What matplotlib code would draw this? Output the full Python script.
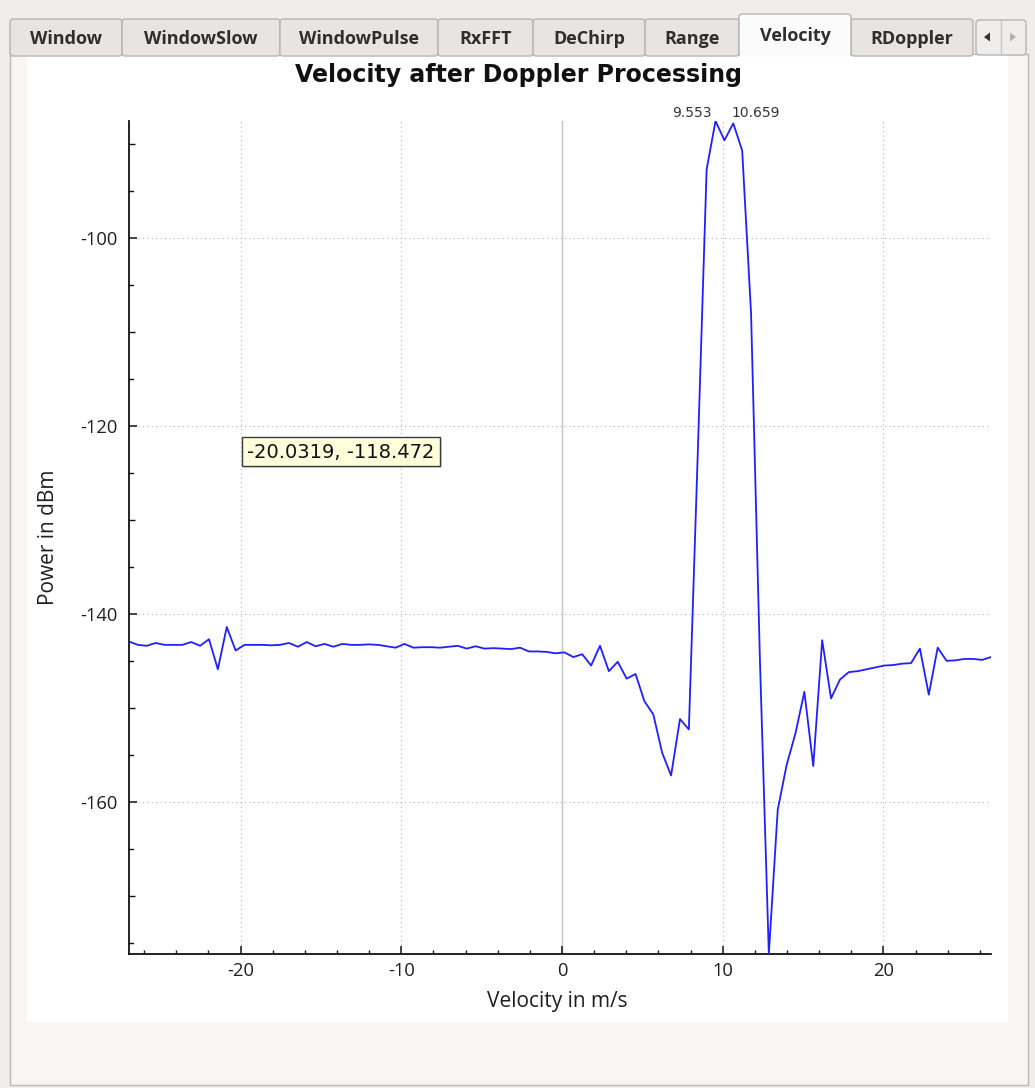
import numpy as np
import matplotlib
matplotlib.use("Agg")
import matplotlib.pyplot as plt
from matplotlib.patches import Rectangle, FancyBboxPatch, Polygon
from matplotlib.ticker import MultipleLocator

plt.rcParams['axes.unicode_minus'] = False

# Doppler bins in m/s (uniform FFT bin spacing of 0.553 m/s)
velocity = np.round(-26.945 + 0.553 * np.arange(98), 3)

# Power per Doppler bin in dBm
power_dbm = [
    -142.95, -143.3, -143.4, -143.1, -143.3, -143.3, -143.3, -143.0, -143.4, -142.7,
    -145.9, -141.4, -143.9, -143.3, -143.3, -143.3, -143.35, -143.3, -143.1, -143.5,
    -143.0, -143.45, -143.2, -143.5, -143.2, -143.3, -143.3, -143.25, -143.3, -143.45,
    -143.6, -143.2, -143.6, -143.55, -143.55, -143.6, -143.5, -143.4, -143.7, -143.45,
    -143.7, -143.65, -143.7, -143.75, -143.6, -144.0, -144.0, -144.05, -144.2, -144.1,
    -144.6, -144.3, -145.5, -143.4, -146.1, -145.1, -146.9, -146.4, -149.3, -150.7,
    -154.8, -157.2, -151.2, -152.3, -123.0, -92.7, -87.55, -89.6, -87.8, -90.7,
    -108.0, -145.0, -176.2, -160.85, -156.1, -152.7, -148.3, -156.2, -142.8, -149.0,
    -147.0, -146.2, -146.1, -145.9, -145.7, -145.5, -145.45, -145.3, -145.25, -143.7,
    -148.6, -143.6, -145.0, -144.95, -144.8, -144.8, -144.9, -144.6,
]

peak_velocities = [9.553, 10.659]
tab_names = ["Window", "WindowSlow", "WindowPulse", "RxFFT", "DeChirp",
             "Range", "Velocity", "RDoppler"]
active_tab = "Velocity"
title_text = "Velocity after Doppler Processing"
x_label = "Velocity in m/s"
y_label = "Power in dBm"
cursor_text = "-20.0319, -118.472"

W, H = 1035, 1088
fig = plt.figure(figsize=(W / 100, H / 100), dpi=100, facecolor="#f0eeec")

# ---- window chrome: tab bar and pane -------------------------------------
bg = fig.add_axes([0, 0, 1, 1], zorder=0)
bg.set_xlim(0, W)
bg.set_ylim(H, 0)
bg.axis("off")

bg.add_patch(Rectangle((10, 54), 1018, 1031, facecolor="#f7f6f4",
                       edgecolor="#bcb9b4", lw=1.0))
bg.add_patch(Rectangle((27, 55), 981, 967, facecolor="white", edgecolor="none"))

tab_edges = [10, 122, 280, 438, 533, 645, 739, 851, 973]
for i, name in enumerate(tab_names):
    x0, x1 = tab_edges[i], tab_edges[i + 1]
    active = name == active_tab
    top = 14 if active else 19
    face = "#fbfbfb" if active else "#e7e5e2"
    bg.add_patch(FancyBboxPatch((x0, top), x1 - x0, 56 - top,
                                boxstyle="round,pad=0,rounding_size=3",
                                facecolor=face, edgecolor="#b7b4af", lw=1.0,
                                zorder=2 if active else 1))
    if active:
        bg.add_patch(Rectangle((x0 + 1, 53), x1 - x0 - 2, 4, facecolor=face,
                               edgecolor="none", zorder=3))
    bg.text((x0 + x1) / 2, 36 if active else 38.5, name, ha="center", va="center",
            fontsize=13, fontweight="bold", family="Open Sans", color="#2e2e2e",
            zorder=4)

# scroll buttons of the tab bar
bg.add_patch(FancyBboxPatch((976, 20), 50, 35, boxstyle="round,pad=0,rounding_size=3",
                            facecolor="#eeedeb", edgecolor="#b7b4af", lw=1.0, zorder=1))
bg.plot([1001, 1001], [21, 54], color="#c8c5c0", lw=1.0, zorder=2)
bg.add_patch(Polygon([(984, 37), (990, 32.5), (990, 41.5)], closed=True,
                     facecolor="#333333", edgecolor="none", zorder=3))
bg.add_patch(Polygon([(1010, 32.5), (1016, 37), (1010, 41.5)], closed=True,
                     facecolor="#b0b0b0", edgecolor="none", zorder=3))

fig.text(518.5 / W, 1 - 75 / H, title_text, ha="center", va="center",
         fontsize=17, fontweight="bold", family="DejaVu Sans", color="#111111")

# ---- plot ----------------------------------------------------------------
ax_l, ax_r, ax_t, ax_b = 129, 991, 121, 954
ax = fig.add_axes([ax_l / W, 1 - ax_b / H, (ax_r - ax_l) / W, (ax_b - ax_t) / H],
                  zorder=1)
ax.set_facecolor("white")

ax.plot(velocity, power_dbm, color="#1f1fff", lw=1.3, zorder=3)
ax.set_xlim(velocity[0], velocity[-1])
ax.set_ylim(min(power_dbm), max(power_dbm))

ax.xaxis.set_major_locator(MultipleLocator(10))
ax.xaxis.set_minor_locator(MultipleLocator(2))
ax.yaxis.set_major_locator(MultipleLocator(20))
ax.yaxis.set_minor_locator(MultipleLocator(10))

for side in ("top", "right"):
    ax.spines[side].set_visible(False)
for side in ("left", "bottom"):
    ax.spines[side].set_linewidth(1.3)
    ax.spines[side].set_color("#111111")

ax.tick_params(which="major", direction="in", length=6, width=1.1, color="#111111",
               labelsize=13.2, labelcolor="#1e1e1e")
ax.tick_params(axis="x", which="major", pad=5.5)
ax.tick_params(axis="y", which="major", pad=8.5)
ax.tick_params(axis="x", which="minor", direction="in", length=3, width=1.0, color="#111111")
ax.tick_params(axis="y", which="minor", direction="in", length=4.3, width=1.0, color="#111111")
for lab in ax.get_xticklabels() + ax.get_yticklabels():
    lab.set_family("Open Sans")

# smallest ticks every 5 dB
ytr = ax.get_yaxis_transform()
lo, hi = ax.get_ylim()
for yv in np.arange(np.ceil(lo / 5) * 5, hi, 5):
    if yv % 10 != 0:
        ax.plot([0, 4 / (ax_r - ax_l)], [yv, yv], transform=ytr, color="#111111",
                lw=1.0, clip_on=False, zorder=4)

# grid: dotted at major ticks, solid zero line
for xv in ax.get_xticks():
    if velocity[0] <= xv <= velocity[-1]:
        if xv == 0:
            ax.axvline(xv, color="#c4c4c4", lw=1.0, zorder=1)
        else:
            ax.axvline(xv, color="#b4b4b4", lw=0.8, ls=(0, (1, 3)), zorder=1)
for yv in ax.get_yticks():
    if lo <= yv <= hi:
        ax.axhline(yv, color="#b4b4b4", lw=0.8, ls=(0, (1, 3)), zorder=1)

ax.set_xlabel(x_label, family="Open Sans", fontsize=15, color="#1e1e1e")
ax.set_ylabel(y_label, family="Open Sans", fontsize=15, color="#1e1e1e")
ax.xaxis.label.set_va("center")
ax.yaxis.label.set_va("center")
ax.xaxis.set_label_coords((557 - ax_l) / (ax_r - ax_l), (ax_b - 1002) / (ax_b - ax_t))
ax.yaxis.set_label_coords((49 - ax_l) / (ax_r - ax_l), 0.5)

# peak markers
for i, pv in enumerate(peak_velocities):
    idx = int(np.argmin(np.abs(velocity - pv)))
    if i == 0:
        ax.annotate(f"{pv:.3f}", (velocity[idx], power_dbm[idx]), xytext=(-2.5, 1),
                    textcoords="offset points", ha="right", va="bottom",
                    fontsize=10, family="DejaVu Sans", color="#333333",
                    annotation_clip=False)
    else:
        ax.annotate(f"{pv:.3f}", (velocity[idx], power_dbm[idx]), xytext=(-1.5, 2.5),
                    textcoords="offset points", ha="left", va="bottom",
                    fontsize=10, family="DejaVu Sans", color="#333333",
                    annotation_clip=False)

# ---- cursor readout tooltip ---------------------------------------------
fg = fig.add_axes([0, 0, 1, 1], zorder=2)
fg.set_xlim(0, W)
fg.set_ylim(H, 0)
fg.axis("off")
fg.patch.set_alpha(0)
fg.add_patch(Rectangle((244, 439), 198, 29, facecolor="#000000", alpha=0.12,
                       edgecolor="none"))
fg.add_patch(Rectangle((242, 437), 198, 29, facecolor="#ffffdc",
                       edgecolor="#3a3a3a", lw=1.0))
fg.text(341, 452, cursor_text, ha="center", va="center", fontsize=14,
        family="DejaVu Sans", color="#111111")

fig.savefig("out.png", dpi=100, facecolor=fig.get_facecolor())
